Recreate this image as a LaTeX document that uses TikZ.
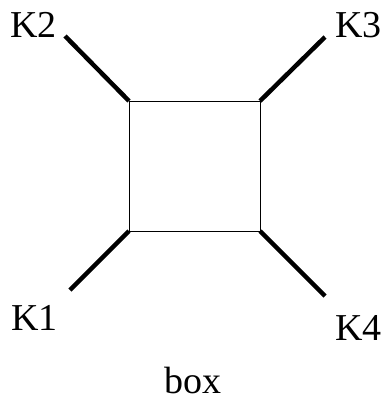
\documentclass[tikz,border=0pt]{standalone}
\usepackage{fontspec}
\setmainfont{Liberation Serif}
\begin{document}
\begin{tikzpicture}[x=1pt,y=-1pt,
  leg/.style={line width=4.5pt},
  edge/.style={line width=0.9pt},
  lbl/.style={font=\fontsize{38}{44}\selectfont, inner sep=0pt}]
\useasboundingbox (0,0) rectangle (386,400);
\coordinate (c2) at (129,101);
\coordinate (c3) at (260,101);
\coordinate (c4) at (260,231);
\coordinate (c1) at (129,231);
\coordinate (e2) at (65,36);
\coordinate (e3) at (325,37);
\coordinate (e1) at (70,290);
\coordinate (e4) at (325,296);
\draw[edge] (c1) -- (c2) -- (c3) -- (c4) -- cycle;
\draw[leg] (c2) -- (e2);
\draw[leg] (c3) -- (e3);
\draw[leg] (c1) -- (e1);
\draw[leg] (c4) -- (e4);
\node[lbl, anchor=base west] (k2) at (10,37) {K2};
\node[lbl, anchor=base west] (k3) at (335,37) {K3};
\node[lbl, anchor=base west] (k1) at (11,330) {K1};
\node[lbl, anchor=base west] (k4) at (335,340) {K4};
\node[lbl, anchor=base] (bx) at (193,393) {box};
\end{tikzpicture}
\end{document}
